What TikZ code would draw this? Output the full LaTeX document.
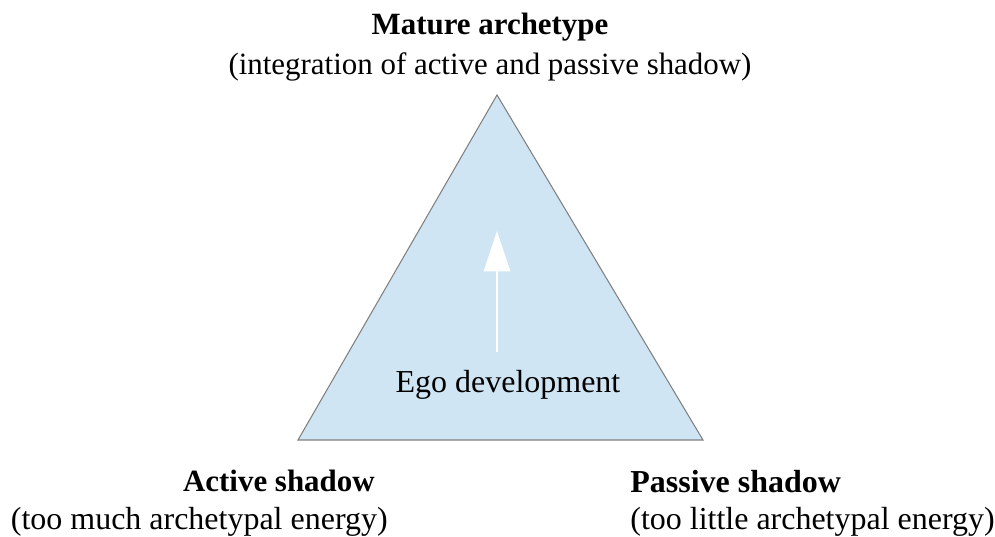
\documentclass[tikz,border=0pt]{standalone}
\usepackage{fontspec}
\setmainfont{Liberation Serif}
\usetikzlibrary{arrows.meta}
\definecolor{paleblue}{HTML}{CFE5F3}
\definecolor{edgegray}{HTML}{808080}
\def\lbl{\fontsize{18.2}{21}\selectfont}
\def\toplbl{\fontsize{17.6}{21}\selectfont}
\tikzset{
  caption/.style={inner sep=0pt,font=\lbl},
  head/.style={caption,font=\lbl\bfseries}
}

\begin{document}
\begin{tikzpicture}[x=0.02cm,y=-0.02cm]
    \useasboundingbox (0,0) rectangle (995,537);
    % triangle
    \coordinate (top) at (497,95);
    \coordinate (lft) at (298,440);
    \coordinate (rgt) at (703,440);
    \filldraw[fill=paleblue,draw=edgegray,line width=0.6pt] (top) -- (lft) -- (rgt) -- cycle;
    % arrow
    \coordinate (from) at (497,352);
    \coordinate (to) at (497,231);
    \draw[white,line width=1.2pt,-{Triangle[width=15pt,length=23pt]}] (from) -- (to);
    \node[caption,anchor=base] (ego) at (508,392) {Ego development};
    % labels
    \node[head,font=\toplbl\bfseries,anchor=base] (mature) at (490,35) {Mature archetype};
    \node[caption,font=\toplbl,anchor=base] (matured) at (490,75) {(integration of active and passive shadow)};
    \node[head,font=\fontsize{17.6}{21}\selectfont\bfseries,anchor=base east] (active) at (375,491) {Active shadow};
    \node[caption,anchor=base east] (actived) at (388,529) {(too much archetypal energy)};
    \node[head,anchor=base west] (passive) at (630,492) {Passive shadow};
    \node[caption,anchor=base west] (passived) at (630,529) {(too little archetypal energy)};
\end{tikzpicture}
\end{document}
